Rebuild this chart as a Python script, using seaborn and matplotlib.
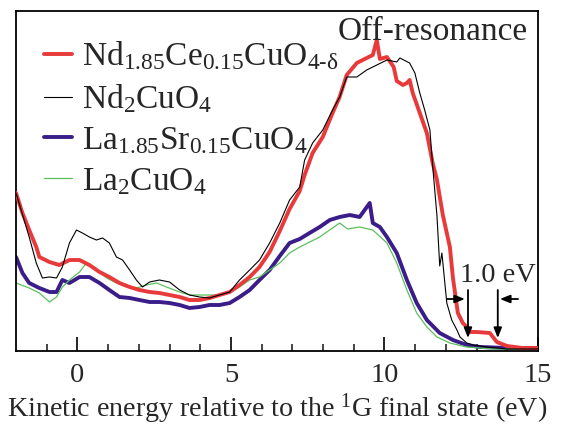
import numpy as np
import pandas as pd
import matplotlib
matplotlib.use("Agg")
import matplotlib.pyplot as plt
import seaborn as sns

# ---- data (intensity in arbitrary units) ----
ncco_x = [-2.0, -1.79, -1.57, -1.34, -1.24, -0.91, -0.59, -0.26, 0.07, 0.39, 0.72, 1.04, 1.37, 1.70,
          2.02, 2.35, 2.67, 3.00, 3.33, 3.65, 3.98, 4.30, 4.63, 4.96, 5.28, 5.61, 5.93, 6.26, 6.59,
          6.91, 7.24, 7.40, 7.66, 7.99, 8.31, 8.54, 8.77, 9.10, 9.42, 9.62, 9.75, 9.85, 10.08, 10.30,
          10.40, 10.60, 10.73, 10.82, 10.92, 11.15, 11.38, 11.57, 11.71, 11.90, 12.13, 12.23, 12.39,
          12.55, 12.68, 12.78, 13.01, 13.43, 13.66, 13.99, 14.5, 15.0]
ncco_y = [158, 138, 121, 104, 94, 89, 86, 91, 91, 86, 79, 74, 68, 64,
          61, 59, 58, 56, 54, 51, 51, 53, 56, 59, 66, 74, 84, 99, 120,
          142, 160, 176, 198, 214, 238, 254, 276, 288, 293, 296, 311, 292, 294, 284,
          270, 266, 268, 271, 258, 238, 218, 188, 171, 136, 104, 73, 38,
          28, 24, 19, 19, 18, 9, 5, 3, 3]

nco_x = [-2.0, -1.57, -1.34, -1.14, -0.91, -0.68, -0.49, -0.26, -0.03, 0.16, 0.39, 0.62, 0.82, 1.04,
         1.27, 1.47, 1.70, 1.92, 2.12, 2.35, 2.67, 3.00, 3.33, 3.65, 3.98, 4.30, 4.63, 4.96, 5.28,
         5.61, 5.93, 6.26, 6.59, 6.91, 7.24, 7.40, 7.66, 7.99, 8.31, 8.54, 8.77, 9.10, 9.42, 9.75,
         10.08, 10.40, 10.50, 10.82, 10.99, 11.15, 11.31, 11.48, 11.57, 11.71, 11.80, 11.87, 12.03,
         12.19, 12.36, 12.46, 12.68, 12.88, 13.34, 14.0, 15.0]
nco_y = [158, 114, 88, 73, 74, 73, 84, 108, 121, 118, 114, 111, 113, 108,
         94, 91, 81, 71, 64, 69, 71, 69, 61, 56, 54, 53, 56, 59, 71,
         81, 91, 108, 128, 151, 164, 191, 208, 221, 241, 254, 274, 274, 281, 286,
         291, 289, 293, 288, 278, 258, 241, 221, 185, 135, 85, 98, 48,
         31, 21, 14, 8, 6, 4, 2, 2]

lsco_x = [-2.0, -1.79, -1.57, -1.24, -0.91, -0.68, -0.49, -0.26, 0.07, 0.39, 0.72, 1.04, 1.37, 1.70,
          2.02, 2.35, 2.67, 3.00, 3.33, 3.65, 3.98, 4.30, 4.63, 4.96, 5.28, 5.61, 5.93, 6.26, 6.59,
          6.91, 7.24, 7.56, 7.89, 8.22, 8.54, 8.87, 9.19, 9.52, 9.62, 9.85, 10.08, 10.40, 10.73,
          11.05, 11.38, 11.80, 12.23, 12.68, 13.11, 14.0, 15.0]
lsco_y = [94, 78, 68, 63, 59, 59, 71, 68, 74, 74, 68, 61, 54, 53,
          51, 49, 49, 48, 46, 43, 44, 46, 46, 48, 54, 61, 71, 81, 95,
          108, 112, 118, 124, 131, 134, 136, 134, 148, 128, 124, 114, 98, 71,
          48, 31, 18, 11, 6, 4, 3, 3]

lco_x = [-2.0, -1.57, -1.24, -0.91, -0.68, -0.49, -0.26, 0.07, 0.29, 0.62, 0.95, 1.27, 1.60, 1.92,
         2.25, 2.58, 2.90, 3.33, 3.65, 3.98, 4.30, 4.63, 4.96, 5.28, 5.61, 5.93, 6.26, 6.59, 6.91,
         7.24, 7.89, 8.54, 8.80, 9.19, 9.62, 10.08, 10.40, 10.73, 11.05, 11.38, 11.71, 12.13, 12.68,
         13.5, 15.0]
lco_y = [68, 63, 58, 49, 54, 64, 71, 79, 88, 81, 73, 68, 64, 63,
         66, 68, 64, 59, 56, 56, 56, 56, 58, 64, 71, 74, 81, 88, 98,
         104, 114, 128, 122, 124, 121, 108, 88, 61, 38, 24, 14, 8, 4,
         2, 2]

labels = [r"$\mathregular{Nd_{1.85}Ce_{0.15}CuO_{4\text{-}\delta}}$",
          r"$\mathregular{Nd_{2}CuO_{4}}$",
          r"$\mathregular{La_{1.85}Sr_{0.15}CuO_{4}}$",
          r"$\mathregular{La_{2}CuO_{4}}$"]
colors = ["#e83a3a", "#000000", "#3b1d8a", "#5cbf5c"]
widths = [2.8, 0.8, 2.8, 0.9]
zorders = [3, 4, 2, 2.5]

sns.set_theme(style="white")
plt.rcParams["font.family"] = ["Liberation Serif", "DejaVu Serif"]
plt.rcParams["mathtext.fontset"] = "stix"

fig = plt.figure(figsize=(5.64, 4.26), dpi=100)
ax = fig.add_axes([16 / 564, 1 - 351 / 426, (538 - 16) / 564, (351 - 11) / 426])

series = [(ncco_x, ncco_y), (nco_x, nco_y), (lsco_x, lsco_y), (lco_x, lco_y)]
for (xs, ys), lab, c, lw, z in zip(series, labels, colors, widths, zorders):
    df = pd.DataFrame({"E": xs, "I": ys})
    sns.lineplot(data=df, x="E", y="I", ax=ax, color=c, lw=lw, label=lab, zorder=z, sort=False)

ax.set_xlim(-2, 15)
ax.set_ylim(0, 340)
ax.set_yticks([])
ax.set_xticks([0, 5, 10, 15])
ax.set_xticks(np.arange(-1, 15, 1), minor=True)
ax.tick_params(axis="x", which="major", direction="in", length=10, width=1.2,
               labelsize=20.5, pad=9, top=False, bottom=True, color="black")
ax.tick_params(axis="x", which="minor", direction="in", length=5, width=1.2, bottom=True, top=False)
for s in ax.spines.values():
    s.set_color("black")
    s.set_linewidth(1.3)
ax.set_xlabel(r"Kinetic energy relative to the $\mathregular{^{1}}$G final state (eV)",
              fontsize=20.2, labelpad=2)
ax.set_ylabel("")

leg = ax.legend(loc="upper left", frameon=False, fontsize=24, handlelength=0.85,
                handletextpad=0.3, labelspacing=0.3, borderaxespad=0.0,
                bbox_to_anchor=(0.028, 0.955))

ax.text(0.98, 0.985, "Off-resonance", transform=ax.transAxes, ha="right", va="top", fontsize=24)
ax.text(13.69, 75, "1.0 eV", ha="center", va="center", fontsize=20.5)

arrow_kw = dict(arrowstyle="-|>,head_length=0.5,head_width=0.2", color="black", lw=1.3,
                shrinkA=0, shrinkB=0)
ax.annotate("", xy=(12.72, 13), xytext=(12.72, 61), arrowprops=arrow_kw)
ax.annotate("", xy=(13.69, 13), xytext=(13.69, 61), arrowprops=arrow_kw)
ax.annotate("", xy=(12.62, 52), xytext=(12.03, 52), arrowprops=arrow_kw)
ax.annotate("", xy=(13.76, 52), xytext=(14.35, 52), arrowprops=arrow_kw)

fig.savefig("out.png", dpi=100)
